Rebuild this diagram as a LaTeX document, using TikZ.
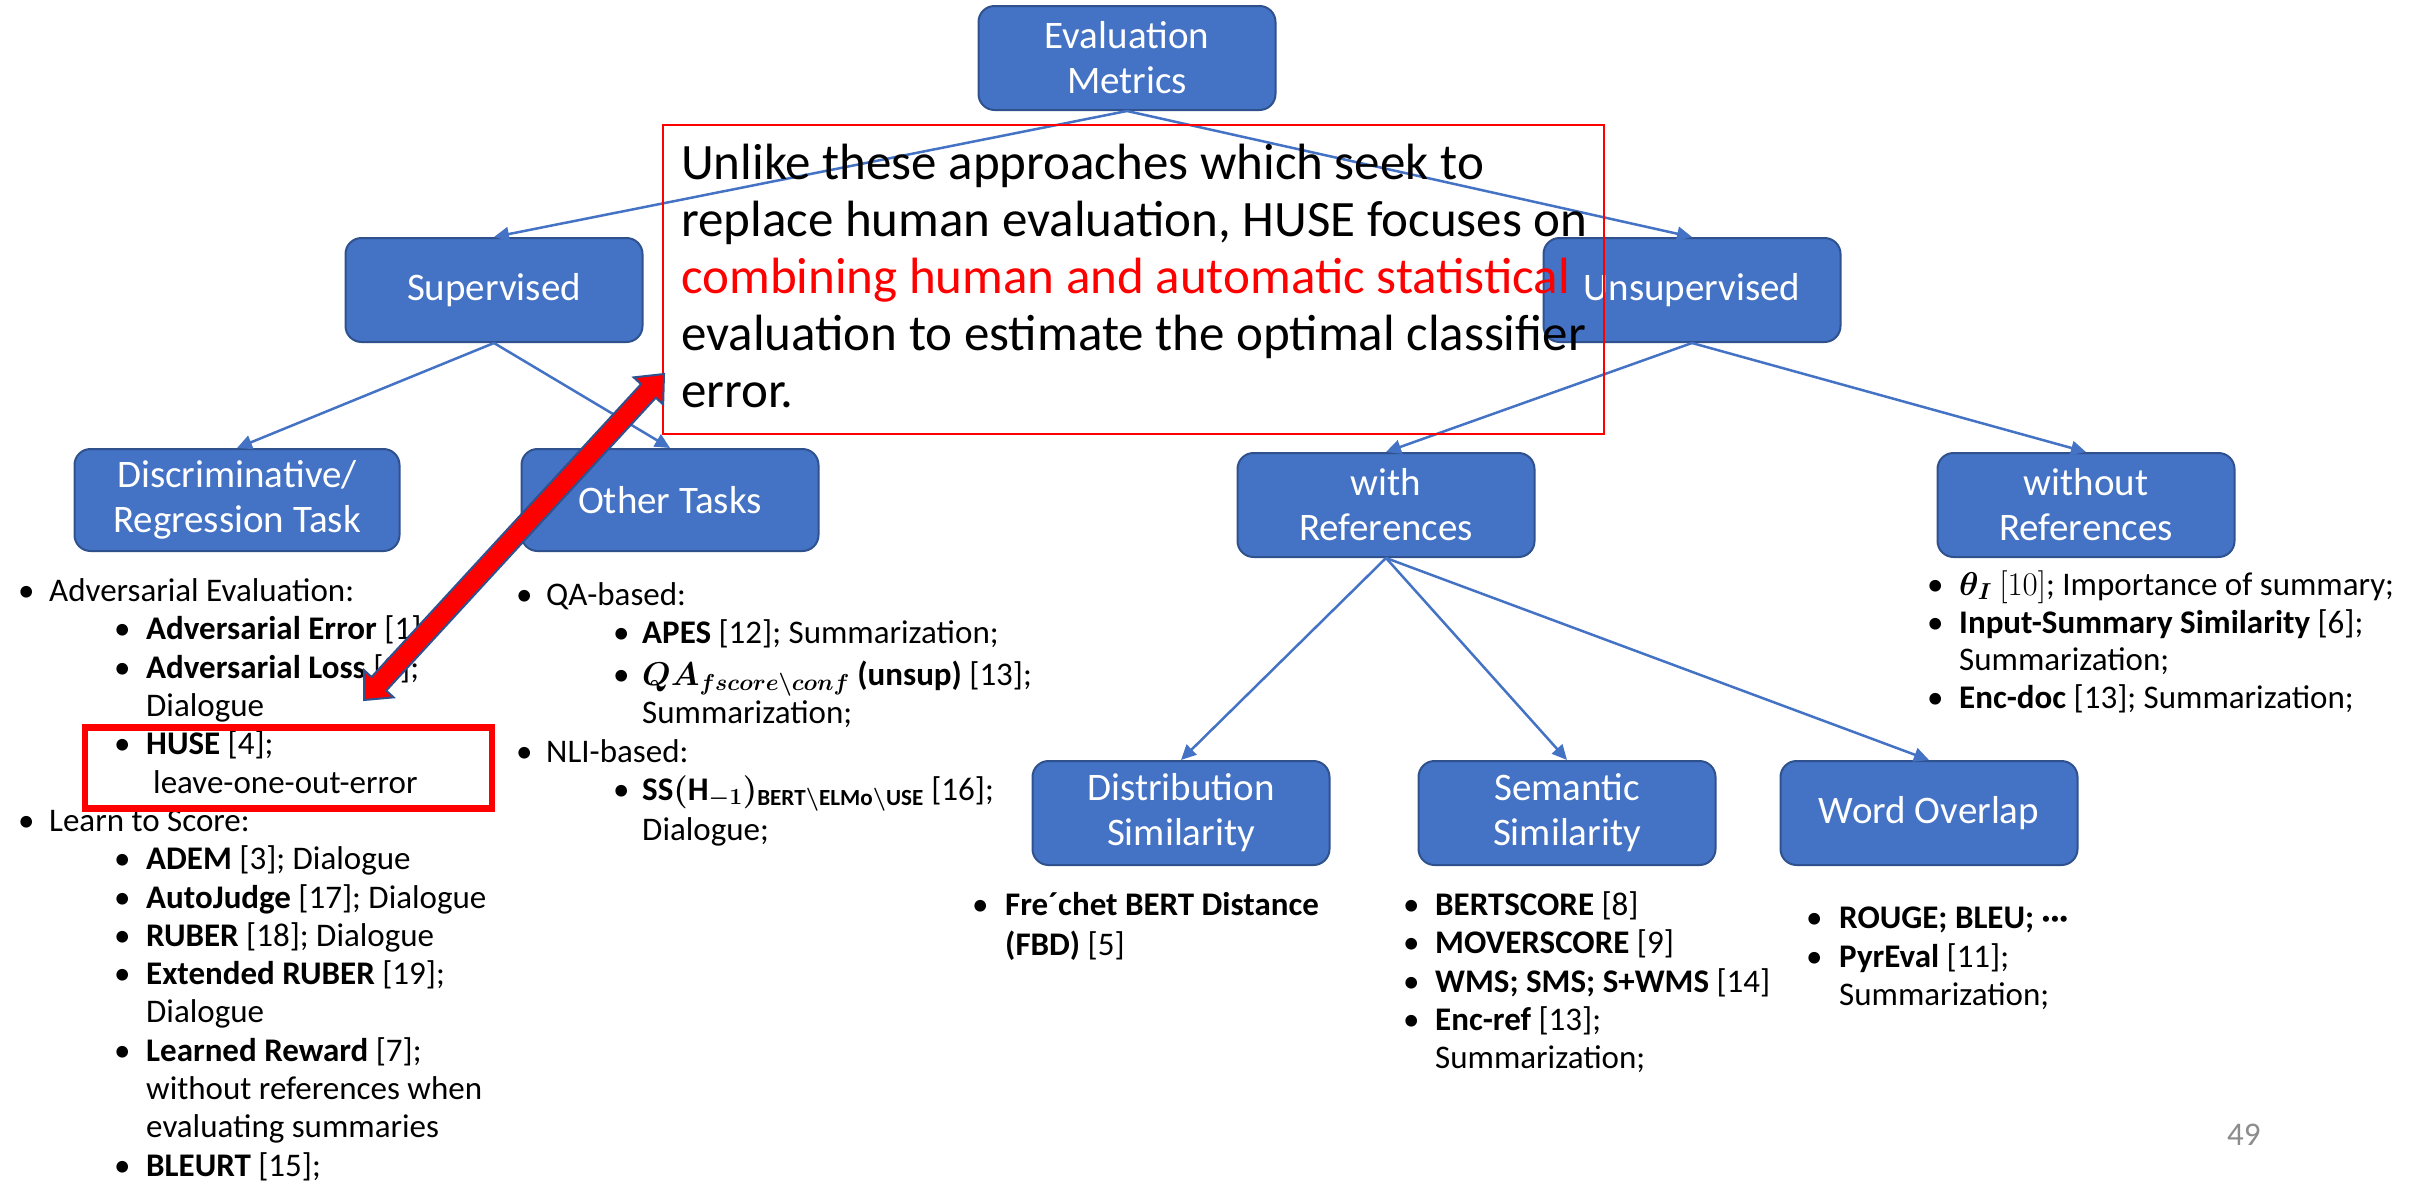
\RequirePackage{fix-cm}
\documentclass[tikz,border=0pt]{standalone}
\usepackage{fontspec}
\setmainfont{Carlito}
\usetikzlibrary{arrows.meta,calc}

\definecolor{boxblue}{HTML}{4472C4}
\definecolor{boxedge}{HTML}{2F528F}
\definecolor{pagegray}{HTML}{8C8C8C}

\newcommand\bodyfont{\fontsize{33}{38}\selectfont}
\newcommand\boxfont{\fontsize{39}{45}\selectfont}
\newcommand\notefont{\fontsize{51}{57}\selectfont}

\tikzset{
  box/.style={rounded corners=16pt, fill=boxblue, draw=boxedge, line width=2pt,
    text=white, font=\boxfont, align=center, inner sep=0pt,
    minimum width=297pt, minimum height=104pt},
  conn/.style={draw=boxblue, line width=2.5pt, -{Triangle[length=15pt,width=14pt]}},
  txt/.style={anchor=base west, inner sep=0pt, font=\bodyfont},
  notetxt/.style={anchor=base west, inner sep=0pt, font=\notefont},
}

% bullet item: name, bullet x, text x, baseline y, text
\newcommand\bitem[5]{%
  \node[txt] (#1-b) at (#2,#4) {\textbullet};
  \node[txt] (#1) at (#3,#4) {#5};}

\begin{document}
\begin{tikzpicture}[x=1pt,y=-1pt]
\useasboundingbox (0,0) rectangle (2422,1181);
\fill[white] (0,0) rectangle (2422,1181);

% ---- tree boxes
\node[box] (em) at (1127,58) {Evaluation\\Metrics};
\node[box] (sup) at (494,290) {Supervised};
\node[box] (uns) at (1692,290) {Unsupervised};
\node[box, minimum width=325pt, minimum height=102pt] (disc) at (237,500) {Discriminative/\\Regression Task};
\node[box, minimum height=102pt] (oth) at (670,500) {Other Tasks};
\node[box] (wref) at (1386,505) {with\\References};
\node[box] (woref) at (2086,505) {without\\References};
\node[box] (dist) at (1181,813) {Distribution\\Similarity};
\node[box] (sem) at (1567,813) {Semantic\\Similarity};
\node[box] (wo) at (1929,813) {Word Overlap};

% ---- connectors
\draw[conn] (em.south) -- (sup.north);
\draw[conn] (em.south) -- (uns.north);
\draw[conn] (sup.south) -- (disc.north);
\draw[conn] (sup.south) -- (oth.north);
\draw[conn] (uns.south) -- (wref.north);
\draw[conn] (uns.south) -- (woref.north);
\draw[conn] (wref.south) -- (dist.north);
\draw[conn] (wref.south) -- (sem.north);
\draw[conn] (wref.south) -- (wo.north);

% ---- supervised, discriminative / regression
\bitem{l1}{18}{49}{601.6}{Adversarial Evaluation:}
\bitem{l2}{114}{146}{639.9}{\textbf{Adversarial Error} [1]}
\bitem{l3}{114}{146}{678.2}{\textbf{Adversarial Loss} [2];}
\node[txt] (l4) at (146,716.5) {Dialogue};
\bitem{l5}{114}{146}{754.8}{\textbf{HUSE} [4];}
\node[txt] (l6) at (153,793.1) {leave-one-out-error};
\bitem{l7}{18}{49}{831.4}{Learn to Score:}
\bitem{l8}{114}{146}{869.7}{\textbf{ADEM} [3]; Dialogue}
\bitem{l9}{114}{146}{908}{\textbf{AutoJudge} [17]; Dialogue}
\bitem{l10}{114}{146}{946.3}{\textbf{RUBER} [18]; Dialogue}
\bitem{l11}{114}{146}{984.6}{\textbf{Extended RUBER} [19];}
\node[txt] (l12) at (146,1022.9) {Dialogue};
\bitem{l13}{114}{146}{1061.2}{\textbf{Learned Reward} [7];}
\node[txt] (l14) at (146,1099.5) {without references when};
\node[txt] (l15) at (146,1137.8) {evaluating summaries};
\bitem{l16}{114}{146}{1176.1}{\textbf{BLEURT} [15];}

% ---- supervised, other tasks
\bitem{m1}{516}{546}{605}{QA-based:}
\bitem{m2}{613}{642}{643}{\textbf{APES} [12]; Summarization;}
\bitem{m3}{613}{642}{685}{{\boldmath$QA_{fscore\backslash conf}$} \textbf{(unsup)} [13];}
\node[txt] (m4) at (642,723) {Summarization;};
\bitem{m5}{516}{546}{762}{NLI-based:}
\bitem{m6}{613}{642}{800}{{\boldmath$\mathrm{SS}(\mathrm{H}_{-1})_{\mathrm{BERT}\backslash\mathrm{ELMo}\backslash\mathrm{USE}}$} [16];}
\node[txt] (m7) at (642,840) {Dialogue;};

% ---- unsupervised, with references
\bitem{d1}{972}{1005}{915}{\textbf{Fre´chet BERT Distance}}
\node[txt] (d2) at (1005,955) {\textbf{(FBD)} [5]};

\bitem{s1}{1403}{1435}{915}{\textbf{BERTSCORE} [8]}
\bitem{s2}{1403}{1435}{953}{\textbf{MOVERSCORE} [9]}
\bitem{s3}{1403}{1435}{992}{\textbf{WMS; SMS; S+WMS} [14]}
\bitem{s4}{1403}{1435}{1030}{\textbf{Enc-ref} [13];}
\node[txt] (s5) at (1435,1068) {Summarization;};

\bitem{w1}{1806}{1839}{928}{\textbf{ROUGE; BLEU; \textperiodcentered\textperiodcentered\textperiodcentered}}
\bitem{w2}{1806}{1839}{967}{\textbf{PyrEval} [11];}
\node[txt] (w3) at (1839,1005) {Summarization;};

% ---- unsupervised, without references
\bitem{n1}{1927}{1959}{595}{{\boldmath$\theta_I$} $[10]$; Importance of summary;}
\bitem{n2}{1927}{1959}{633}{\textbf{Input-Summary Similarity} [6];}
\node[txt] (n3) at (1959,670) {Summarization;};
\bitem{n4}{1927}{1959}{708}{\textbf{Enc-doc} [13]; Summarization;}

% ---- page number
\node[txt, text=pagegray] (pgno) at (2227,1145) {49};

% ---- callout
\node[draw=red, line width=2pt, minimum width=941pt, minimum height=309pt,
      inner sep=0pt, anchor=north west] (callout) at (661.5,124) {};
\node[notetxt] (co1) at (681,179) {Unlike these approaches which seek to};
\node[notetxt] (co2) at (681,236) {replace human evaluation, HUSE focuses on};
\node[notetxt, text=red] (co3) at (681,293) {combining human and automatic statistical};
\node[notetxt] (co4) at (681,350) {evaluation to estimate the optimal classifier};
\node[notetxt] (co5) at (681,407) {error.};

% ---- highlight of HUSE item
\node[draw=red, line width=6.5pt, minimum width=407pt, minimum height=81pt,
      inner sep=0pt] (husebox) at (288.5,768) {};

% ---- red double arrow linking the item and the note
\coordinate (rtop) at (664,374);
\coordinate (rbot) at (364,700);
\coordinate (hbt) at ($(rtop)!23pt!(rbot)$);
\coordinate (hbb) at ($(rbot)!22pt!(rtop)$);
\filldraw[fill=red, draw=boxedge, line width=2pt, line join=miter]
  (rtop) -- ($(hbt)!20pt!90:(rtop)$) -- ($(hbt)!10pt!90:(rtop)$)
  -- ($(hbb)!10pt!-90:(rbot)$) -- ($(hbb)!20pt!-90:(rbot)$) -- (rbot)
  -- ($(hbb)!20pt!90:(rbot)$) -- ($(hbb)!10pt!90:(rbot)$)
  -- ($(hbt)!10pt!-90:(rtop)$) -- ($(hbt)!20pt!-90:(rtop)$) -- cycle;
\end{tikzpicture}
\end{document}
